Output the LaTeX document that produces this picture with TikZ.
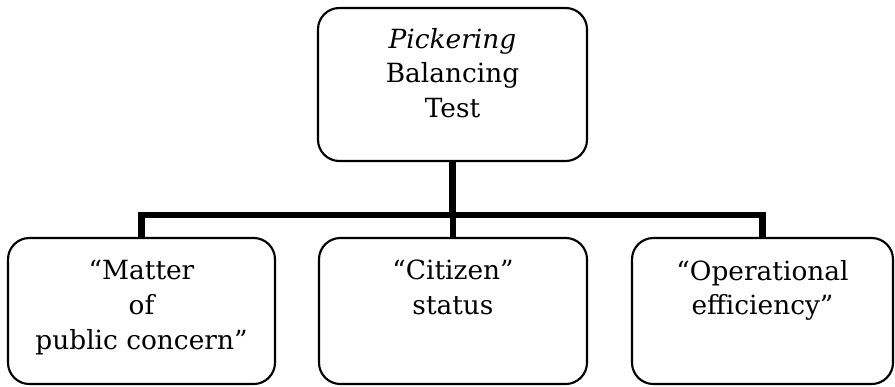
\documentclass[tikz,border=0pt]{standalone}
\usepackage{fontspec}
\setmainfont{DejaVu Serif}
\begin{document}
\begin{tikzpicture}[x=0.75pt,y=-0.75pt,
  box/.style={draw, line width=1.6pt, rounded corners=16pt, inner sep=0pt},
  boxtext/.style={align=center, inner sep=0pt, anchor=north,
    font=\fontsize{19.8}{26}\selectfont},
  conn/.style={line width=4.6pt}]
\useasboundingbox (0,0) rectangle (895,386);

% root of the chart
\node[box, minimum width=201.75pt, minimum height=114.75pt] (top) at (452.5,84.5) {};
\node[boxtext] (toptext) at (452.5,28) {\textit{Pickering}\\Balancing\\Test};

% the three factors
\node[box, minimum width=200.25pt, minimum height=109.5pt] (left) at (141.5,311) {};
\node[boxtext] (lefttext) at (141.5,260) {“Matter\\of\\public concern”};

\node[box, minimum width=201pt, minimum height=109.5pt] (mid) at (453,311) {};
\node[boxtext] (midtext) at (453,260) {“Citizen”\\status};

\node[box, minimum width=195.75pt, minimum height=109.5pt] (right) at (762.5,311) {};
\node[boxtext] (righttext) at (762.5,260) {“Operational\\efficiency”};

% tree connectors
\coordinate (bus) at (453,215);
\draw[conn] (top.south) -- (top.south |- bus);
\draw[conn] (left.north) |- (bus) -| (right.north);
\draw[conn] (mid.north |- bus) -- (mid.north);
\end{tikzpicture}
\end{document}
